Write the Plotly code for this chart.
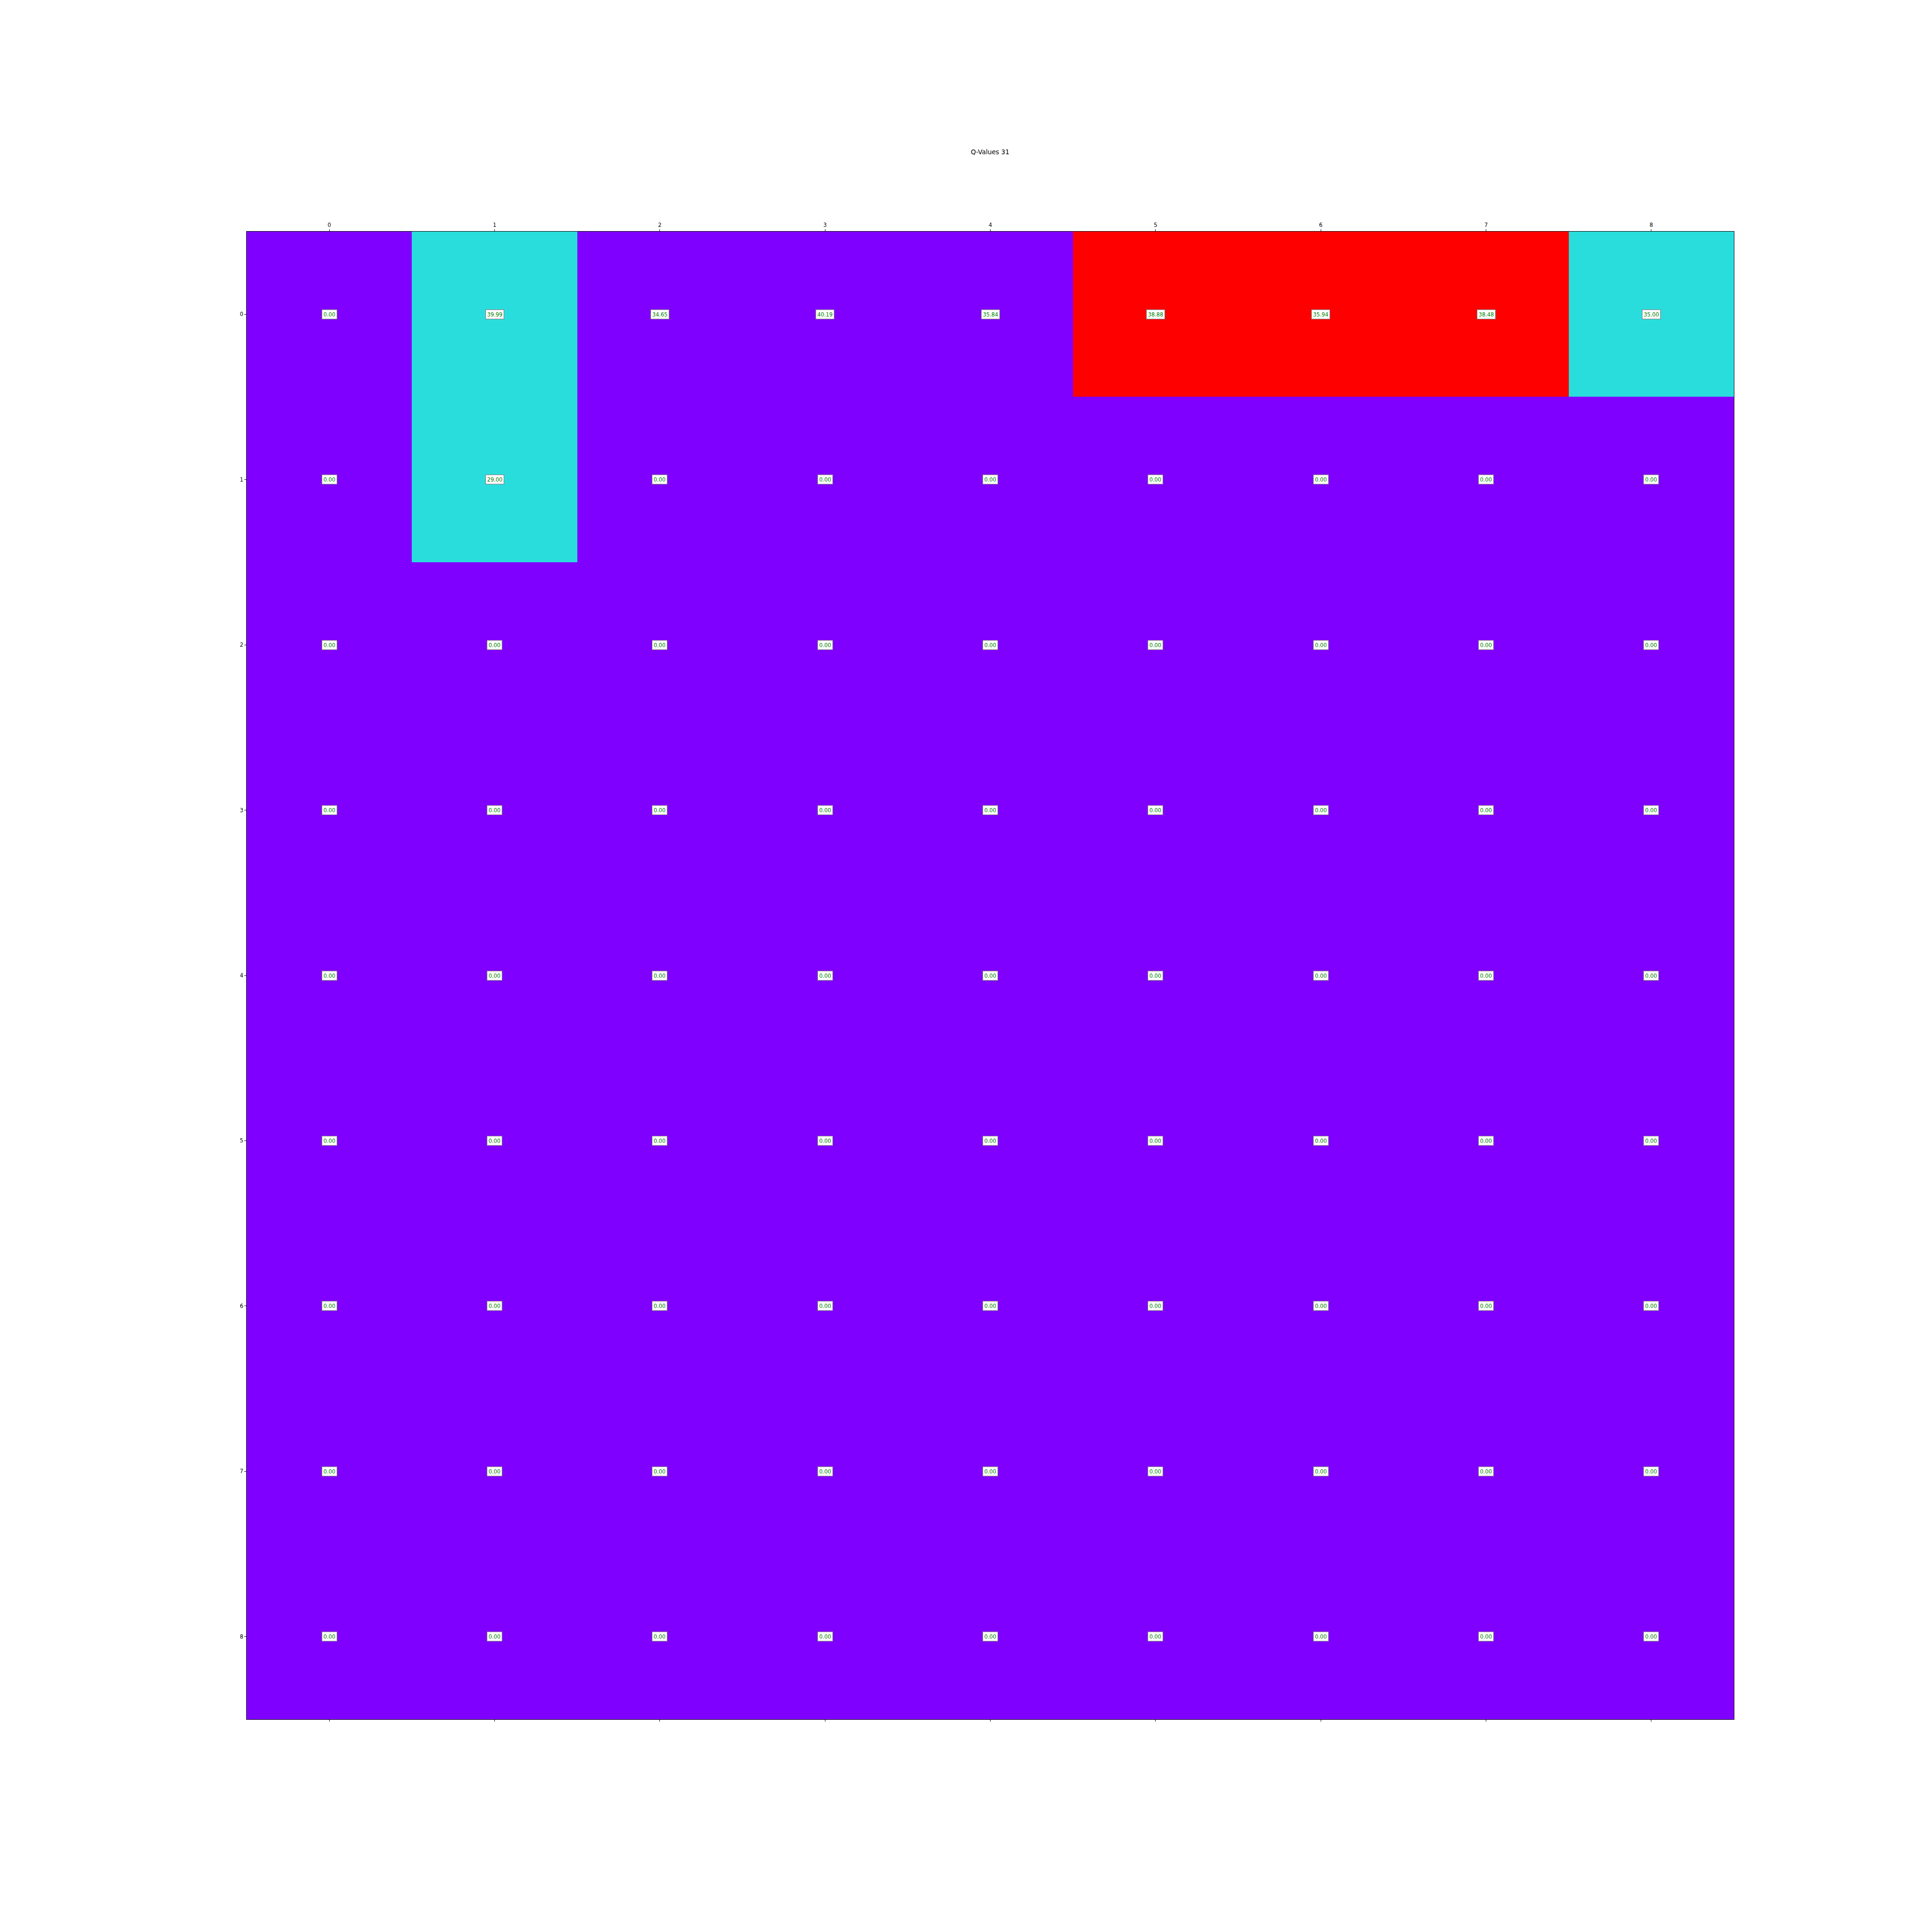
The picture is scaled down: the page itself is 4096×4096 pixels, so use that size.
import plotly.graph_objects as go

S = 0.819

rows = [0, 1, 2, 3, 4, 5, 6, 7, 8]
cols = [0, 1, 2, 3, 4, 5, 6, 7, 8]
tick_labels = ["0", "1", "2", "3", "4", "5", "6", "7", "8"]

q_row0 = [0.00, 39.99, 34.65, 40.19, 35.84, 38.88, 35.94, 38.48, 35.00]
q_row1 = [0.00, 29.00, 0.00, 0.00, 0.00, 0.00, 0.00, 0.00, 0.00]
q_zero = [0.00] * 9
q_values = [q_row0, q_row1] + [q_zero for _ in range(7)]

state_row0 = [0, 1, 0, 0, 0, 3, 3, 3, 1]
state_row1 = [0, 1, 0, 0, 0, 0, 0, 0, 0]
state_zero = [0] * 9
cell_state = [state_row0, state_row1] + [state_zero for _ in range(7)]

title_text = "Q-Values 31"

font_family = "DejaVu Sans"

fig = go.Figure()
fig.add_trace(go.Heatmap(
    z=cell_state, x=cols, y=rows,
    zmin=0, zmax=3,
    colorscale=[[0, "#8000ff"], [1/3, "#2adddd"], [1, "#ff0000"]],
    showscale=False, hoverinfo="skip", xgap=0, ygap=0,
))

annotations = []
for r in rows:
    for c in cols:
        annotations.append(dict(
            x=c, y=r, xref="x", yref="y",
            text=f"{q_values[r][c]:.2f}", showarrow=False,
            font=dict(family=font_family, size=13.9 * S, color="#008000"),
            bgcolor="white", bordercolor="#808080", borderwidth=1.2,
            borderpad=2.5 * S * 1.2, opacity=1.0,
        ))

W = H = 4096
left = 638 * S
right = 4488 * S
top = 600 * S
bottom = 4450 * S

fig.update_layout(
    width=W, height=H,
    margin=dict(l=left, r=W - right, t=top, b=H - bottom, pad=0),
    paper_bgcolor="white", plot_bgcolor="white",
    title=dict(text=title_text, x=0.5 * (left + right) / W, xanchor="center",
               y=1 - 393 * S / H, yanchor="middle",
               font=dict(family=font_family, size=16.7 * S, color="black")),
    annotations=annotations,
    xaxis=dict(
        side="top", range=[-0.5, 8.5], tickvals=cols, ticktext=tick_labels,
        showgrid=False, zeroline=False, showline=True, linecolor="black",
        linewidth=1.1 * S * 1.2, mirror="ticks", ticks="outside",
        ticklen=4.9 * S, tickwidth=1, tickcolor="black",
        tickfont=dict(family=font_family, size=13.9 * S, color="black"),
        constrain="domain",
    ),
    yaxis=dict(
        range=[8.5, -0.5], tickvals=rows, ticktext=tick_labels,
        showgrid=False, zeroline=False, showline=True, linecolor="black",
        linewidth=1.1 * S * 1.2, mirror=True, ticks="outside",
        ticklen=4.9 * S, tickwidth=1, tickcolor="black",
        tickfont=dict(family=font_family, size=13.9 * S, color="black"),
    ),
)

fig.write_html("out.html")
